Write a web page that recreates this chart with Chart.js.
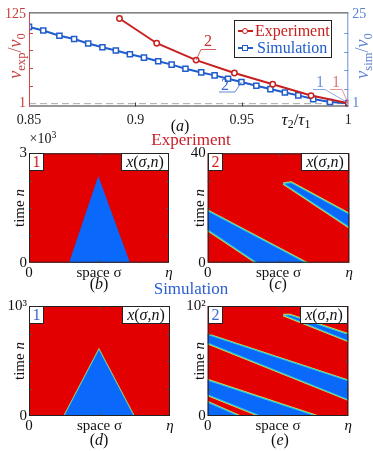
<!DOCTYPE html>
<html>
<head>
<meta charset="utf-8">
<script src="https://cdn.jsdelivr.net/npm/chart.js@4.4.0/dist/chart.umd.min.js"></script>
<style>
  body { margin:0; width:373px; height:451px; position:relative; overflow:hidden; background:#fff;
         font-family:"Liberation Serif", serif; color:#111; }
  canvas { position:absolute; }
  .c { position:absolute; transform:translate(-50%,-50%); white-space:nowrap; line-height:1; font-size:16px; }
  .r { position:absolute; transform:translate(-50%,-50%) rotate(-90deg); white-space:nowrap; line-height:1; }
  sub { font-size:70%; vertical-align:-0.3em; line-height:0; }
  sup { font-size:70%; vertical-align:0.5em; line-height:0; }
  .box { position:absolute; border:1px solid #222; background:#fff; box-sizing:border-box;
         font-size:16px; line-height:16px; text-align:center; }
</style>
</head>
<body>

<canvas id="top" width="373" height="135" style="left:0;top:0"></canvas>
<canvas id="pb" width="185" height="145" style="left:0;top:140px"></canvas>
<canvas id="pc" width="188" height="145" style="left:185px;top:140px"></canvas>
<canvas id="pd" width="185" height="140" style="left:0;top:293px"></canvas>
<canvas id="pe" width="188" height="140" style="left:185px;top:293px"></canvas>

<!-- panel (a) texts -->
<div class="r" style="left:15px;top:56px;font-size:18px;color:#c83c3c"><i>v</i><sub>exp</sub>/<i>v</i><sub>0</sub></div>
<div class="r" style="left:362px;top:56px;font-size:18px;color:#5a82d2"><i>v</i><sub>sim</sub>/<i>v</i><sub>0</sub></div>
<div class="c" style="left:296px;top:119px;font-size:17px"><i>τ</i><sub>2</sub>/<i>τ</i><sub>1</sub></div>
<div class="c" style="left:180px;top:126px">(<i>a</i>)</div>
<div class="c" style="left:208px;top:41px;color:#c83232">2</div>
<div class="c" style="left:225px;top:85px;color:#3d68c8">2</div>
<div class="c" style="left:320px;top:82px;color:#7090e0">1</div>
<div class="c" style="left:336px;top:82px;color:#e07a7a">1</div>

<div style="position:absolute;left:234px;top:20px;width:98px;height:38px;border:1px solid #222;background:#fff;box-sizing:border-box">
  <div style="position:absolute;left:3px;top:9px;width:15px;height:2px;background:#c8201e"></div>
  <div style="position:absolute;left:7px;top:7px;width:6px;height:6px;border:1.5px solid #c8201e;border-radius:50%;background:#fff;box-sizing:border-box"></div>
  <div style="position:absolute;left:20px;top:2px;font-size:16px;line-height:16px;color:#c8201e">Experiment</div>
  <div style="position:absolute;left:3px;top:26px;width:15px;height:2px;background:#1f5ccc"></div>
  <div style="position:absolute;left:7px;top:24px;width:6px;height:6px;border:1.5px solid #1f5ccc;background:#fff;box-sizing:border-box"></div>
  <div style="position:absolute;left:22px;top:19px;font-size:16px;line-height:16px;color:#1f5ccc">Simulation</div>
</div>

<!-- section titles -->
<div class="c" style="left:191px;top:139px;font-size:17px;color:#c8202a">Experiment</div>
<div class="c" style="left:191px;top:288px;font-size:17px;color:#2a5fd0">Simulation</div>

<!-- heatmap texts -->
<div class="c" style="left:43px;top:139px;font-size:14px">×10<sup>3</sup></div>
<div class="r" style="left:19px;top:208px;font-size:15px">time <i>n</i></div>
<div class="r" style="left:199px;top:208px;font-size:15px">time <i>n</i></div>
<div class="r" style="left:19px;top:361px;font-size:15px">time <i>n</i></div>
<div class="r" style="left:199px;top:361px;font-size:15px">time <i>n</i></div>
<div class="c" style="left:99px;top:284px">(<i>b</i>)</div>
<div class="c" style="left:278px;top:284px">(<i>c</i>)</div>
<div class="c" style="left:99px;top:440px">(<i>d</i>)</div>
<div class="c" style="left:280px;top:440px">(<i>e</i>)</div>

<div class="box" style="left:29px;top:153px;width:15px;height:18px;color:#d42020">1</div>
<div class="box" style="left:121px;top:153px;width:48px;height:18px"><i>x</i>(<i>σ</i>,<i>n</i>)</div>
<div class="box" style="left:208px;top:153px;width:15px;height:18px;color:#d42020">2</div>
<div class="box" style="left:301px;top:153px;width:48px;height:18px"><i>x</i>(<i>σ</i>,<i>n</i>)</div>
<div class="box" style="left:29px;top:306px;width:15px;height:18px;color:#3a6ad0">1</div>
<div class="box" style="left:122px;top:306px;width:48px;height:18px"><i>x</i>(<i>σ</i>,<i>n</i>)</div>
<div class="box" style="left:208px;top:306px;width:15px;height:18px;color:#3a6ad0">2</div>
<div class="box" style="left:300px;top:306px;width:48px;height:18px"><i>x</i>(<i>σ</i>,<i>n</i>)</div>

<script>
// ---- panel (a): front speed against tau2/tau1 ----
var tauExp = [0.8925, 0.9100, 0.9285, 0.9465, 0.9645, 0.9825, 1.0];
var vExp   = [119.5, 85.1, 61.6, 43.6, 27.9, 12.2, 1.5];

var tauSim = [0.850, 0.8567, 0.8643, 0.8712, 0.8778, 0.8845, 0.8908, 0.8974, 0.9040, 0.9107, 0.9170, 0.9235,
              0.9309, 0.9372, 0.9435, 0.9498, 0.9568, 0.9634, 0.9702, 0.9765, 0.9835, 0.9914, 1.0];
var vSim   = [21.7, 20.7, 19.3, 18.4, 17.2, 16.2, 15.3, 14.3, 13.4, 12.4, 11.5, 10.4,
              9.4, 8.6, 7.7, 6.8, 5.8, 4.9, 4.0, 3.2, 2.2, 1.4, 1.1];

var tauTicks   = [0.85, 0.9, 0.95, 1];
var expTicks   = [1, 25, 50, 75, 100, 125];
var simTicks   = [1, 5, 10, 15, 20, 25];

// ---- panels (b)-(e): blue (low state) regions as polygons in (space, time) ----
var spaceTicks  = [0, 0.5, 1];
var spaceLabels = ['0', 'space σ', 'η'];

var timeTicksB = [0, 0.75, 1.5, 2.25, 3];        // x10^3
var triExp1    = [[[0.286, 0], [0.495, 2.38], [0.721, 0]]];

var timeTicksC = [0, 10, 20, 30, 40];
var bandsExp2  = [
  [[-0.05, 20.4], [0.768, -2], [0.402, -2], [-0.05, 13.7]],
  [[0.534, 29.0], [0.589, 29.3], [1.05, 16.4], [1.05, 11.2]]
];

var timeTicksD = [0, 250, 500, 750, 1000];
var triSim1    = [[[0.248, 0], [0.496, 606], [0.745, 0]]];

var timeTicksE = [0, 25, 50, 75, 100];
var bandsSim2  = [
  [[0.538, 91.8], [0.585, 91.8], [1.05, 72.1], [1.05, 65.6]],
  [[-0.05, 76.3], [1.05, 30.0], [1.05, 12.2], [-0.05, 68.7]],
  [[-0.05, 34.8], [0.822, -2], [0.412, -2], [-0.05, 21.7]],
  [[-0.05, 15.5], [0.26, -2], [-0.05, -2]]
];

var colRed  = '#e30000';
var colBlue = '#0a68fa';
var serif = 'Liberation Serif';

function pairs(xs, ys) {
  var out = [];
  for (var i = 0; i < xs.length; i++) out.push({x: xs[i], y: ys[i]});
  return out;
}

function setTicks(list) {
  return function(scale) { scale.ticks = list.map(function(v) { return {value: v}; }); };
}

// frame, inward ticks and the leader lines of panel (a)
var topFrame = {
  id: 'topFrame',
  afterDatasetsDraw: function(chart) {
    var a = chart.chartArea, c = chart.ctx, s = chart.scales;
    c.save();
    c.lineWidth = 1;
    c.strokeStyle = '#333';
    c.beginPath();
    c.moveTo(a.left, a.top + 0.5); c.lineTo(a.right, a.top + 0.5);
    c.moveTo(a.left, a.bottom - 0.5); c.lineTo(a.right, a.bottom - 0.5);
    c.stroke();
    c.strokeStyle = '#d04848';
    c.beginPath(); c.moveTo(a.left + 0.5, a.top); c.lineTo(a.left + 0.5, a.bottom); c.stroke();
    c.strokeStyle = '#6a8fdc';
    c.beginPath(); c.moveTo(a.right - 0.5, a.top); c.lineTo(a.right - 0.5, a.bottom); c.stroke();

    c.strokeStyle = '#444';
    c.beginPath();
    tauTicks.slice(1, -1).forEach(function(v) {
      var px = Math.round(s.x.getPixelForValue(v)) + 0.5;
      c.moveTo(px, a.bottom); c.lineTo(px, a.bottom - 4);
    });
    c.stroke();
    c.strokeStyle = '#d04848';
    c.beginPath();
    expTicks.slice(1, -1).forEach(function(v) {
      var py = Math.round(s.yL.getPixelForValue(v)) + 0.5;
      c.moveTo(a.left, py); c.lineTo(a.left + 4, py);
    });
    c.stroke();
    c.strokeStyle = '#6a8fdc';
    c.beginPath();
    simTicks.slice(1, -1).forEach(function(v) {
      var py = Math.round(s.yR.getPixelForValue(v)) + 0.5;
      c.moveTo(a.right, py); c.lineTo(a.right - 4, py);
    });
    c.stroke();

    // leader lines from the "1" / "2" labels to their points
    function leader(col, x0, x1, y, pt) {
      c.strokeStyle = col;
      c.lineWidth = 0.8;
      c.beginPath();
      c.moveTo(x0, y); c.lineTo(x1, y);
      c.lineTo(pt.x, pt.y);
      c.stroke();
    }
    var red = chart.getDatasetMeta(0).data, blue = chart.getDatasetMeta(1).data;
    c.beginPath();
    c.strokeStyle = '#c83232'; c.lineWidth = 0.8;
    c.moveTo(216, 49.5); c.lineTo(201, 49.5); c.lineTo(red[2].x, red[2].y); c.stroke();
    leader('#3d68c8', 219, 235, 92, blue[15]);
    leader('#7090e0', 313, 325, 89.5, blue[blue.length - 1]);
    leader('#e07a7a', 330, 342, 89.5, red[red.length - 1]);
    c.restore();
  }
};

var tickFont = {family: serif, size: 14};

new Chart(document.getElementById('top'), {
  type: 'line',
  data: {
    datasets: [{
      label: 'Experiment',
      data: pairs(tauExp, vExp),
      yAxisID: 'yL',
      borderColor: '#c8201e',
      borderWidth: 2,
      pointStyle: 'circle',
      pointRadius: 2.7,
      pointBorderWidth: 1.5,
      pointBorderColor: '#c8201e',
      pointBackgroundColor: '#fff'
    }, {
      label: 'Simulation',
      data: pairs(tauSim, vSim),
      yAxisID: 'yR',
      borderColor: '#1f5ccc',
      borderWidth: 2,
      pointStyle: 'rect',
      pointRadius: 3.6,
      pointBorderWidth: 1.5,
      pointBorderColor: '#1f5ccc',
      pointBackgroundColor: '#fff'
    }, {
      label: 'unit',
      data: [{x: 0.85, y: 1}, {x: 1, y: 1}],
      yAxisID: 'yL',
      borderColor: '#aaa',
      borderWidth: 1,
      borderDash: [7, 4],
      pointRadius: 0
    }]
  },
  options: {
    animation: false,
    responsive: false,
    events: [],
    plugins: {legend: {display: false}, tooltip: {enabled: false}},
    layout: {padding: {top: 6, left: 0, right: 0, bottom: 0}},
    scales: {
      x: {
        type: 'linear', min: 0.85, max: 1,
        afterBuildTicks: setTicks(tauTicks),
        afterFit: function(s) { s.height = 28.5; },
        ticks: {font: tickFont, color: '#222', padding: 5, maxRotation: 0, autoSkip: false,
                callback: function(v) { return String(v); }},
        grid: {display: false, drawTicks: false},
        border: {display: false}
      },
      yL: {
        position: 'left', min: -3, max: 128,
        afterBuildTicks: setTicks(expTicks),
        afterFit: function(s) { s.width = 29; },
        ticks: {font: tickFont, color: '#c83c3c', padding: 3, autoSkip: false,
                callback: function(v) { return (v === 1 || v === 125) ? String(v) : ''; }},
        grid: {display: false, drawTicks: false},
        border: {display: false}
      },
      yR: {
        position: 'right', min: 0.2, max: 25.6,
        afterBuildTicks: setTicks(simTicks),
        afterFit: function(s) { s.width = 24.7; },
        ticks: {font: tickFont, color: '#5a82d2', padding: 4, autoSkip: false,
                callback: function(v) { return (v === 1 || v === 25) ? String(v) : ''; }},
        grid: {display: false, drawTicks: false},
        border: {display: false}
      }
    }
  },
  plugins: [topFrame]
});

// ---- heatmap panels ----
var heatBg = {
  id: 'heatBg',
  beforeDatasetsDraw: function(chart) {
    var a = chart.chartArea, c = chart.ctx;
    c.save();
    c.fillStyle = colRed;
    c.fillRect(a.left, a.top, a.right - a.left, a.bottom - a.top);
    c.restore();
  }
};

var heatFrame = {
  id: 'heatFrame',
  afterDatasetsDraw: function(chart) {
    var a = chart.chartArea, c = chart.ctx, s = chart.scales;
    c.save();
    c.strokeStyle = '#555';
    c.lineWidth = 1;
    c.beginPath();
    s.x.ticks.slice(1, -1).forEach(function(t) {
      var px = Math.round(s.x.getPixelForValue(t.value)) + 0.5;
      c.moveTo(px, a.bottom); c.lineTo(px, a.bottom - 3);
      c.moveTo(px, a.top); c.lineTo(px, a.top + 3);
    });
    s.y.ticks.slice(1, -1).forEach(function(t) {
      var py = Math.round(s.y.getPixelForValue(t.value)) + 0.5;
      c.moveTo(a.left, py); c.lineTo(a.left + 3, py);
      c.moveTo(a.right, py); c.lineTo(a.right - 3, py);
    });
    c.stroke();
    c.strokeStyle = '#222';
    c.strokeRect(a.left + 0.5, a.top + 0.5, a.right - a.left - 1, a.bottom - a.top - 1);
    c.restore();
  }
};

// one blue region: a yellow halo underneath, then the blue fill with a cyan rim
function bandSets(polys, edge) {
  var sets = [];
  polys.forEach(function(poly) {
    var pts = poly.map(function(p) { return {x: p[0], y: p[1]}; });
    pts.push(pts[0]);
    if (edge > 0) {
      sets.push({data: pts, borderColor: '#e8e030', borderWidth: edge * 2, fill: false,
                 order: 2, clip: 0, pointRadius: 0, tension: 0});
    }
    sets.push({data: pts, borderColor: edge > 0 ? '#30c8e0' : colBlue, borderWidth: edge > 0 ? edge : 0,
               backgroundColor: colBlue, fill: 'shape', order: 1, clip: 0, pointRadius: 0, tension: 0});
  });
  return sets;
}

function heatChart(id, polys, edge, timeTicks, topLabel, dims) {
  var yMax = timeTicks[timeTicks.length - 1];
  new Chart(document.getElementById(id), {
    type: 'line',
    data: {datasets: bandSets(polys, edge)},
    options: {
      animation: false,
      responsive: false,
      events: [],
      plugins: {legend: {display: false}, tooltip: {enabled: false}},
      layout: {padding: {top: dims.top, right: dims.right, left: 0, bottom: 0}},
      scales: {
        x: {
          type: 'linear', min: 0, max: 1,
          afterBuildTicks: setTicks(spaceTicks),
          afterFit: function(s) { s.height = dims.xh; },
          ticks: {color: '#111', padding: 1, maxRotation: 0, autoSkip: false,
                  // the eta at the right end is set in italics, as in the source
                  font: function(ctx) {
                    return {family: serif, size: 15, style: (ctx.tick && ctx.tick.value === 1) ? 'italic' : 'normal'};
                  },
                  callback: function(v) { return spaceLabels[spaceTicks.indexOf(v)]; }},
          grid: {display: false, drawTicks: false},
          border: {display: false}
        },
        y: {
          type: 'linear', min: 0, max: yMax,
          afterBuildTicks: setTicks(timeTicks),
          afterFit: function(s) { s.width = dims.yw; },
          ticks: {font: {family: serif, size: 15}, color: '#111', padding: 2, autoSkip: false,
                  callback: function(v) { return v === 0 ? '0' : (v === yMax ? topLabel : ''); }},
          grid: {display: false, drawTicks: false},
          border: {display: false}
        }
      }
    },
    plugins: [heatBg, heatFrame]
  });
}

heatChart('pb', triExp1,   0,   timeTicksB, '3',   {top: 13.3, right: 16,   yw: 29,   xh: 22.3});
heatChart('pc', bandsExp2, 1.2, timeTicksC, '40',  {top: 13.3, right: 23.7, yw: 22.7, xh: 22.3});
heatChart('pd', triSim1,   0.7, timeTicksD, '10³', {top: 13,   right: 15,   yw: 29,   xh: 17});
heatChart('pe', bandsSim2, 1.2, timeTicksE, '10²', {top: 13,   right: 24.7, yw: 22.7, xh: 17});
</script>
</body>
</html>
